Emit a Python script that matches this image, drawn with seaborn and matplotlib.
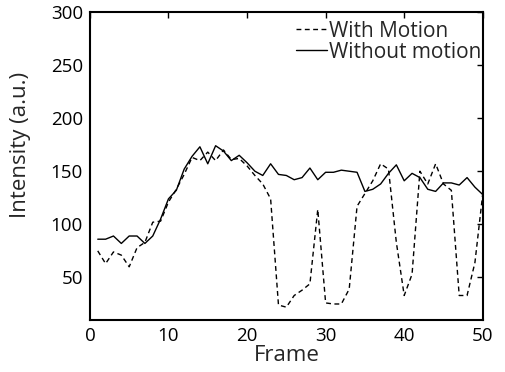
import numpy as np
import pandas as pd
import matplotlib
matplotlib.use("Agg")
import matplotlib.pyplot as plt
import seaborn as sns

frames = list(range(1, 51))
with_motion = [75, 63, 74, 71, 60, 78, 83, 102, 103, 121,
               133, 147, 163, 160, 168, 160, 170, 161, 162, 155,
               146, 138, 124, 24, 22, 33, 38, 44, 114, 26,
               25, 25, 39, 117, 129, 141, 157, 152, 83, 33,
               53, 150, 138, 157, 138, 132, 33, 33, 64, 129]
without_motion = [86, 86, 89, 82, 89, 89, 82, 89, 105, 124,
                  132, 152, 164, 173, 157, 174, 169, 160, 165, 158,
                  150, 146, 157, 147, 146, 142, 144, 153, 142, 149,
                  149, 151, 150, 149, 131, 133, 138, 148, 156, 141,
                  148, 144, 133, 131, 139, 139, 137, 144, 135, 128]

df = pd.DataFrame({
    "Frame": frames * 2,
    "Intensity": with_motion + without_motion,
    "Series": ["With Motion"] * 50 + ["Without motion"] * 50,
})

sns.set_style("white")
plt.rcParams["font.family"] = ["Open Sans", "DejaVu Sans"]

fig = plt.figure(figsize=(5.05, 3.72), dpi=100)
ax = fig.add_axes([0.178, 0.14, 0.778, 0.828])

sns.lineplot(data=df, x="Frame", y="Intensity", hue="Series", style="Series",
             palette=["black", "black"], dashes=[(3.5, 2.5), ""],
             linewidth=1.0, ax=ax)

ax.set_xlim(0, 50)
ax.set_ylim(10, 300)
ax.set_xticks([0, 10, 20, 30, 40, 50])
ax.set_yticks([50, 100, 150, 200, 250, 300])
ax.tick_params(direction="in", length=4, width=1, labelsize=13.5, pad=5,
               top=True, right=True, colors="black")
for sp in ax.spines.values():
    sp.set_linewidth(1.5)
    sp.set_color("black")
ax.set_xlabel("Frame", fontsize=16, labelpad=0)
ax.set_ylabel("Intensity (a.u.)", fontsize=16)
# label sits a bit above the axes centre, as in the original
ax.yaxis.set_label_coords(-0.15, 0.568)

leg = ax.legend(loc="upper right", bbox_to_anchor=(1.008, 0.985),
                frameon=False, fontsize=15,
                handlelength=1.5, handletextpad=0.1, labelspacing=0.0,
                borderaxespad=0.1, borderpad=0.1)

fig.savefig("out.png", dpi=100)
